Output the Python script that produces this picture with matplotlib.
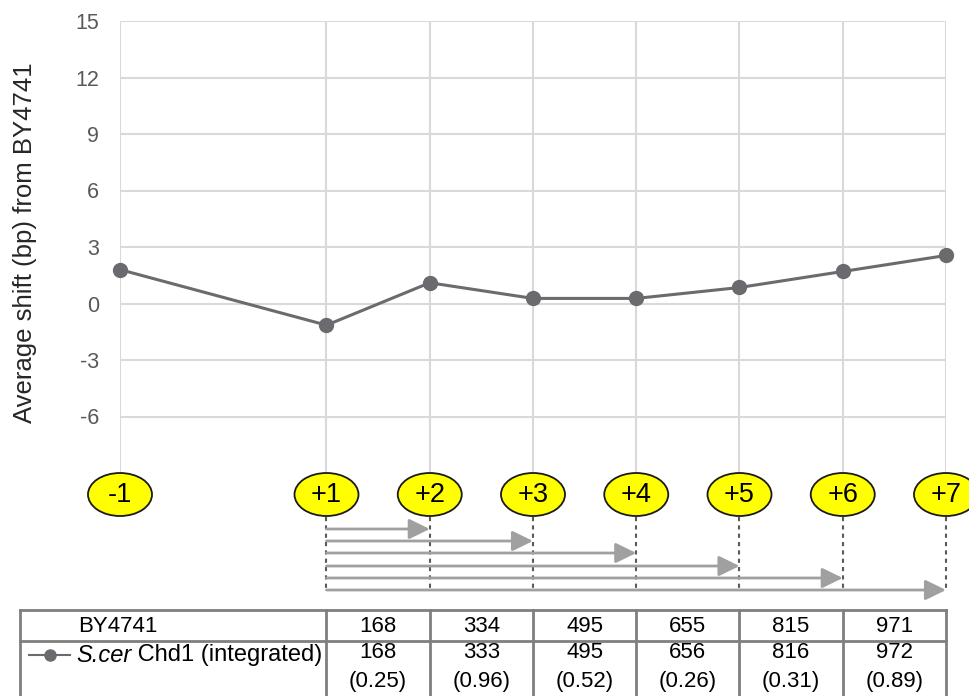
import matplotlib
matplotlib.use('Agg')
import matplotlib.pyplot as plt
from matplotlib.patches import Ellipse

plt.rcParams['font.family'] = ['Liberation Sans', 'DejaVu Sans']
plt.rcParams['axes.unicode_minus'] = False

# nucleosome positions (0 is skipped) and their labels
positions = [-1, 1, 2, 3, 4, 5, 6, 7]
labels = ['-1', '+1', '+2', '+3', '+4', '+5', '+6', '+7']
# average shift (bp) from BY4741
shift = [1.8, -1.15, 1.1, 0.27, 0.27, 0.85, 1.7, 2.55]

# distances from +1 for the table
by4741 = [168, 334, 495, 655, 815, 971]
chd1 = [168, 333, 495, 656, 816, 972]
pvals = ['(0.25)', '(0.96)', '(0.52)', '(0.26)', '(0.31)', '(0.89)']

line_col = '#6b6b6f'
grid_col = '#d9d9d9'

W, H = 970, 696
fig = plt.figure(figsize=(W / 100, H / 100), dpi=100)

# main plot
ax = fig.add_axes([120 / W, (H - 473) / H, 826 / W, 452 / H])
ax.plot(positions, shift, '-o', color=line_col, lw=2.2, ms=10, zorder=3, clip_on=False)
ax.set_xlim(-1, 7)
ax.set_ylim(-9, 15)
ax.set_yticks(range(-6, 16, 3))
ax.set_xticks(positions)
ax.set_xticklabels([])
ax.grid(True, color=grid_col, lw=1.5)
ax.set_axisbelow(True)
for s in ax.spines.values():
    s.set_visible(False)
ax.tick_params(length=0, pad=15, labelsize=15.5, labelcolor='#595959')
ax.set_ylabel('Average shift (bp) from BY4741', fontsize=18.5, color='#262626')
ax.yaxis.set_label_coords(-(120 - 37) / 826, (473 - 243) / 452)

# lower panel: nucleosome ovals, arrows and table (y in pixels from panel top)
bx = fig.add_axes([120 / W, 0, 826 / W, 223 / H])
bx.set_xlim(-1, 7)
bx.set_ylim(223, 0)
bx.axis('off')

for p, lab in zip(positions, labels):
    bx.add_patch(Ellipse((p, 21.5), 0.62, 43, facecolor='#ffff00',
                         edgecolor='#1a1a1a', lw=1.3, clip_on=False, zorder=3))
    bx.text(p, 22, lab, ha='center', va='center', fontsize=19.5, zorder=4)

# dotted drop lines under each downstream nucleosome
for p in positions[1:]:
    bx.plot([p, p], [44, 119], color='#595959', lw=1.5, ls=(0, (2, 2)), clip_on=False)

# arrows from +1 to each downstream nucleosome
arrow_y = [56, 68, 80, 93, 105, 117]
for p, yy in zip(positions[2:], arrow_y):
    bx.annotate('', xy=(p, yy), xytext=(1, yy),
                arrowprops=dict(arrowstyle='-|>,head_length=0.45,head_width=0.22',
                                color='#a0a0a0', lw=2,
                                mutation_scale=28, shrinkA=0, shrinkB=0))

# table
left = -1 + (20 - 120) / 103.25
tcol = '#7f7f7f'
top, mid, bot = 137, 168, 240
bx.plot([left, 7], [top, top], color=tcol, lw=2, clip_on=False)
bx.plot([left, 7], [mid, mid], color=tcol, lw=2, clip_on=False)
for xx in [left] + positions[1:]:
    bx.plot([xx, xx], [top, bot], color=tcol, lw=2, clip_on=False)

bx.text(-1 + (78 - 120) / 103.25, 153, 'BY4741', ha='left', va='center', fontsize=16)
mx = [-1 + (29 - 120) / 103.25, -1 + (70 - 120) / 103.25]
bx.plot(mx, [182, 182], color=line_col, lw=1.5, clip_on=False)
bx.plot([sum(mx) / 2], [182], 'o', color=line_col, ms=8, clip_on=False)
t1 = bx.text(-1 + (76 - 120) / 103.25, 182, 'S.cer', style='italic', ha='left',
             va='center', fontsize=17)
bx.annotate(' Chd1 (integrated)', xy=(1, 0), xycoords=t1, ha='left', va='bottom',
            fontsize=17)

for i in range(len(by4741)):
    xc = positions[i + 1] + 0.5
    bx.text(xc, 153, str(by4741[i]), ha='center', va='center', fontsize=16)
    bx.text(xc, 180, str(chd1[i]), ha='center', va='center', fontsize=16)
    bx.text(xc, 208, pvals[i], ha='center', va='center', fontsize=16)

fig.savefig('out.png', dpi=100)
